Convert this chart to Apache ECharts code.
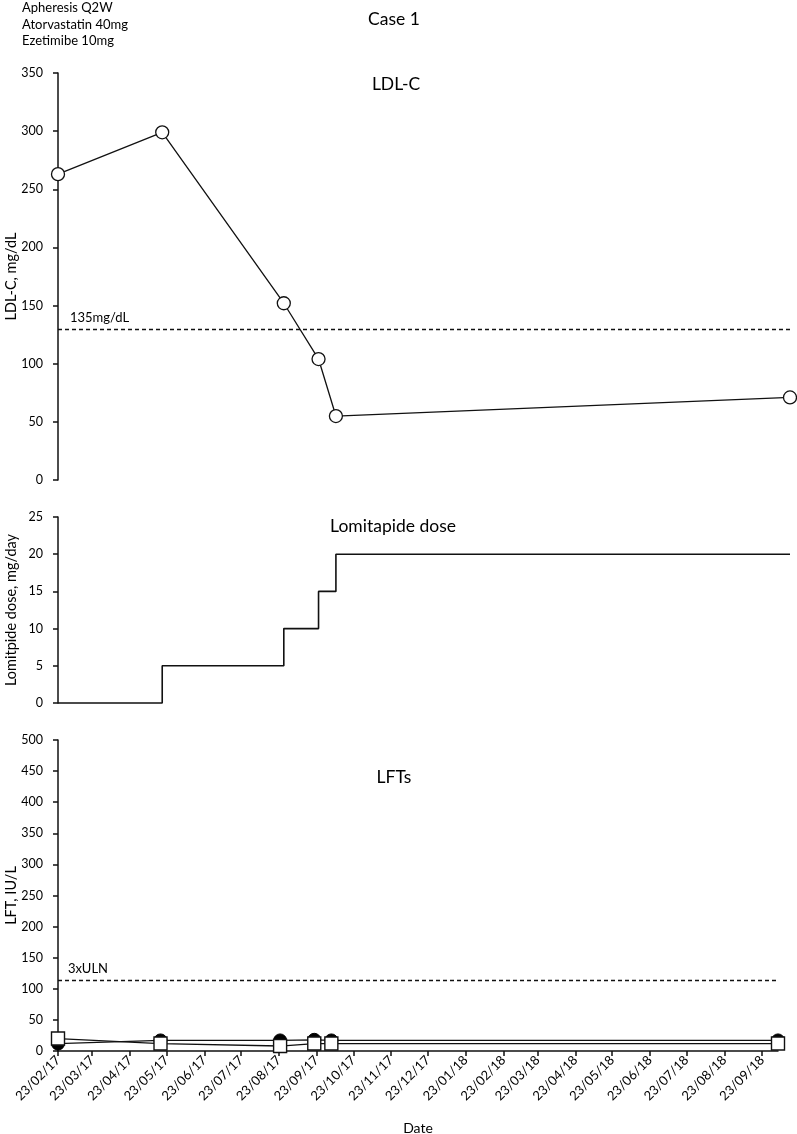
<!DOCTYPE html>
<html><head><meta charset="utf-8">
<script src="https://cdn.jsdelivr.net/npm/echarts@6/dist/echarts.min.js"></script>
<style>html,body{margin:0;padding:0;background:#fff}#c{width:797px;height:1134px}</style>
</head><body><div id="c"></div>
<script>
// ---- data ----
const visitDates = ['2017-02-23','2017-05-18','2017-08-24','2017-09-21','2017-10-05','2018-10-06'];
const ldlValues = [263, 299, 152, 104, 55, 71];
const doseDates = ['2017-02-23','2017-05-18','2017-08-24','2017-09-21','2017-10-05','2018-10-06'];
const doseValues = [0, 5, 10, 15, 20, 20];
const lftDates = ['2017-02-23','2017-05-18','2017-08-24','2017-09-21','2017-10-05','2018-10-06'];
const lftCircleValues = [12, 17, 17, 18, 17, 17];
const lftSquareValues = [20, 12, 8, 12, 12, 12];
const tickDates = ['2017-02-23','2017-03-23','2017-04-23','2017-05-23','2017-06-23','2017-07-23','2017-08-23','2017-09-23','2017-10-23','2017-11-23','2017-12-23','2018-01-23','2018-02-23','2018-03-23','2018-04-23','2018-05-23','2018-06-23','2018-07-23','2018-08-23','2018-09-23'];
const ldlThreshold = 130, ldlThresholdLabel = '135mg/dL';
const lftThreshold = 114, lftThresholdLabel = '3xULN';
const sideNotes = ['Apheresis Q2W', 'Atorvastatin 40mg', 'Ezetimibe 10mg'];
const xMin = '2017-02-23', xMax = '2018-10-06';

// ---- helpers: dates -> day offsets from xMin ----
const DAY = 86400000;
function utc(s){ const p = s.split('-').map(Number); return Date.UTC(p[0], p[1]-1, p[2]); }
const T0 = utc(xMin);
function day(s){ return Math.round((utc(s) - T0) / DAY); }
function pairs(d, v){ return d.map((x,i)=>[day(x), v[i]]); }
function pad(n){ return (n<10?'0':'')+n; }
function fmt(v){ const d = new Date(T0 + Math.round(v) * DAY); return pad(d.getUTCDate())+'/'+pad(d.getUTCMonth()+1)+'/'+String(d.getUTCFullYear()).slice(2); }

const FONT = 'Lato';
const TXT = '#000';
const AX = '#111';
const chart = echarts.init(document.getElementById('c'), null, {renderer:'canvas'});

function yAxis(idx, max, interval, name){
  return {
    type:'value', gridIndex: idx, min:0, max:max, interval:interval,
    name:name, nameLocation:'middle', nameGap:39, nameRotate:90, nameMoveOverlap:false,
    nameTextStyle:{fontFamily:FONT, fontSize:14.5, color:TXT},
    axisLine:{show:true, lineStyle:{color:AX, width:1.5}},
    axisTick:{show:true, length:5, lineStyle:{color:AX, width:1.5}},
    axisLabel:{fontFamily:FONT, fontSize:12.5, color:TXT, margin:15},
    splitLine:{show:false}
  };
}
function hiddenX(idx){
  return {type:'value', gridIndex:idx, min:0, max:day(xMax), show:false, splitLine:{show:false}};
}
const tickVals = tickDates.map(day);
const titleStyle = {fontFamily:FONT, fontSize:17.5, fontWeight:'normal', color:TXT};
const G = {containLabel:false, outerBoundsMode:'none'};

const option = {
  animation:false,
  backgroundColor:'#fff',
  textStyle:{fontFamily:FONT},
  title:[
    {text:'Case 1', left:389, top:5, textAlign:'center', textStyle:titleStyle},
    {text:'LDL-C', left:391, top:70, textAlign:'center', textStyle:titleStyle},
    {text:'Lomitapide dose', left:388, top:512, textAlign:'center', textStyle:titleStyle},
    {text:'LFTs', left:389, top:763, textAlign:'center', textStyle:titleStyle}
  ],
  graphic:[
    {type:'text', left:22, top:0, style:{text:sideNotes.join('\n'), fontFamily:FONT, fontSize:13, lineHeight:16.5, fill:TXT}}
  ],
  grid:[
    Object.assign({left:58, top:73, right:7, height:407}, G),
    Object.assign({left:58, top:517, right:7, height:186}, G),
    Object.assign({left:58, top:740, right:19, height:311}, G)
  ],
  xAxis:[
    hiddenX(0),
    hiddenX(1),
    {type:'value', gridIndex:2, min:0, max:day(xMax),
     name:'Date', nameLocation:'middle', nameGap:70, nameMoveOverlap:false,
     nameTextStyle:{fontFamily:FONT, fontSize:14, color:TXT},
     axisLine:{show:true, lineStyle:{color:AX, width:1.5}},
     axisTick:{show:true, length:5, customValues:tickVals, lineStyle:{color:AX, width:1.5}},
     axisLabel:{show:true, customValues:tickVals, rotate:45, fontFamily:FONT, fontSize:13, color:TXT, margin:7, hideOverlap:false, formatter:fmt},
     splitLine:{show:false}}
  ],
  yAxis:[
    yAxis(0, 350, 50, 'LDL-C, mg/dL'),
    yAxis(1, 25, 5, 'Lomitpide dose, mg/day'),
    yAxis(2, 500, 50, 'LFT, IU/L')
  ],
  series:[
    {type:'line', xAxisIndex:0, yAxisIndex:0, data:pairs(visitDates, ldlValues),
     symbol:'circle', symbolSize:13, showAllSymbol:true, clip:false,
     lineStyle:{color:'#111', width:1.3},
     itemStyle:{color:'#fff', borderColor:'#111', borderWidth:1.3},
     markLine:{silent:true, symbol:'none', data:[{yAxis:ldlThreshold}],
       lineStyle:{color:'#111', type:[4,3], width:1.3},
       label:{show:true, position:'insideStartTop', formatter:ldlThresholdLabel, fontFamily:FONT, fontSize:13, color:TXT, distance:[12,5]}}},
    {type:'line', xAxisIndex:1, yAxisIndex:1, data:pairs(doseDates, doseValues),
     step:'end', symbol:'none', clip:false,
     lineStyle:{color:'#111', width:1.6}},
    {type:'line', xAxisIndex:2, yAxisIndex:2, data:pairs(lftDates, lftCircleValues),
     symbol:'circle', symbolSize:13, clip:false,
     lineStyle:{color:'#111', width:1.3},
     itemStyle:{color:'#000', borderColor:'#000', borderWidth:1},
     markLine:{silent:true, symbol:'none', data:[{yAxis:lftThreshold}],
       lineStyle:{color:'#111', type:[4,3], width:1.3},
       label:{show:true, position:'insideStartTop', formatter:lftThresholdLabel, fontFamily:FONT, fontSize:13, color:TXT, distance:[10,5]}}},
    {type:'line', xAxisIndex:2, yAxisIndex:2, data:pairs(lftDates, lftSquareValues),
     symbol:'rect', symbolSize:13, clip:false,
     lineStyle:{color:'#111', width:1.3},
     itemStyle:{color:'#fff', borderColor:'#111', borderWidth:1.4}}
  ]
};
chart.setOption(option);
</script>
</body></html>
